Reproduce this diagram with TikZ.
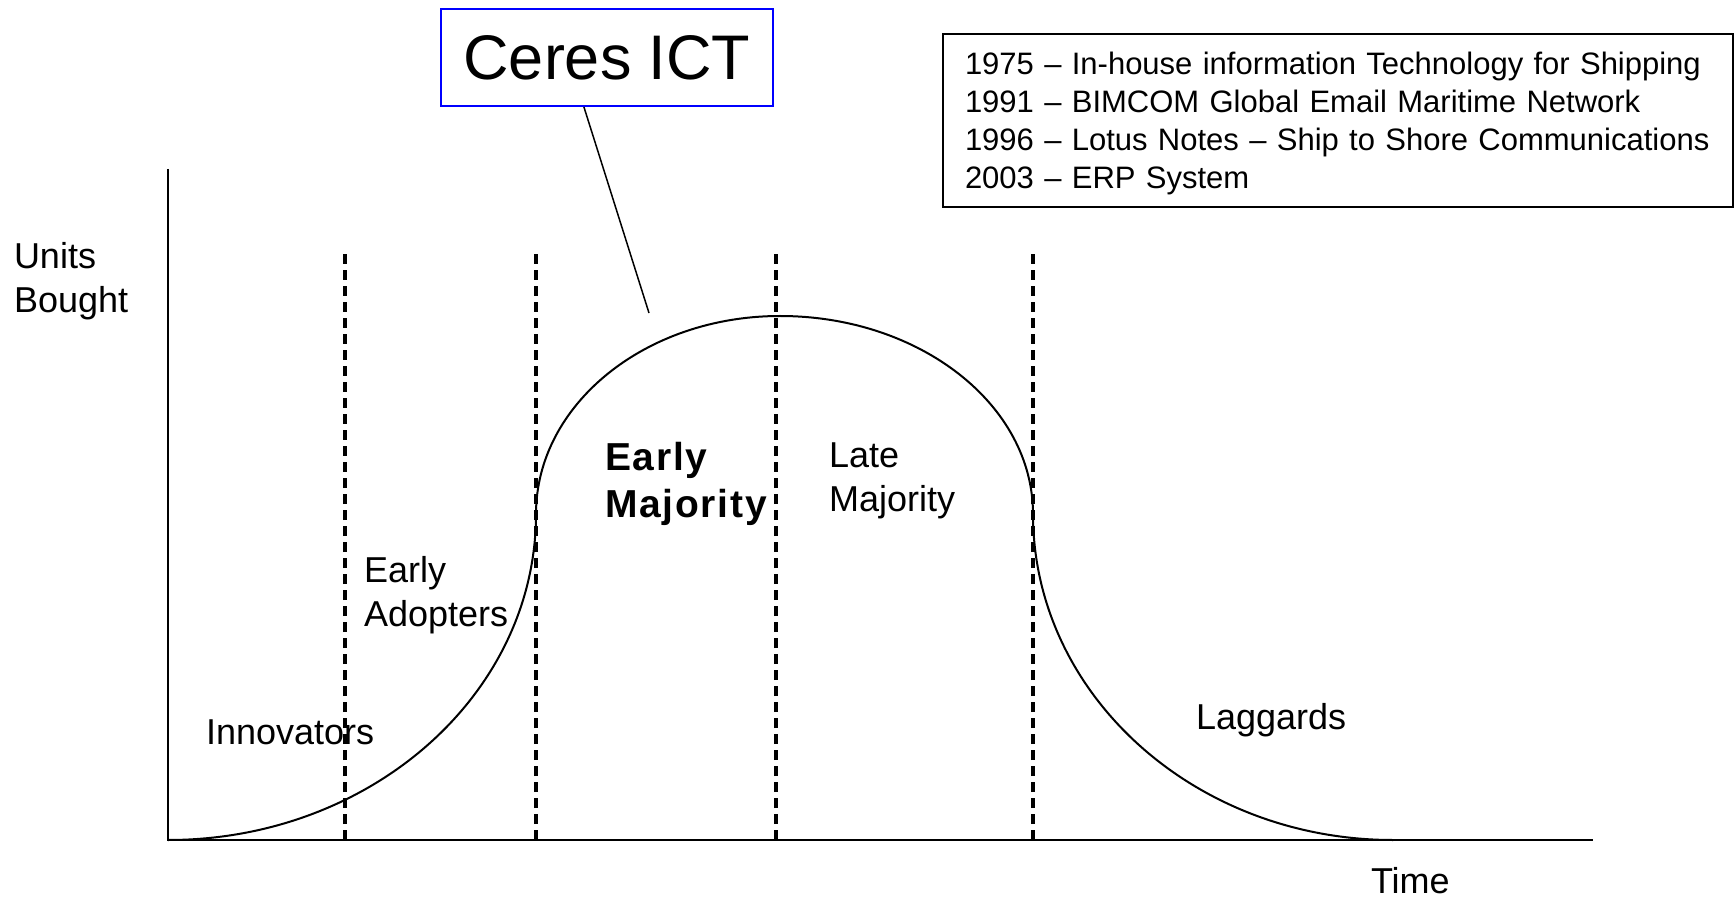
\documentclass[tikz,border=0pt]{standalone}
\usepackage{fontspec}
\setmainfont{Liberation Sans}
\newfontfamily\spacedfont[LetterSpace=4.5]{Liberation Sans}
\tikzset{
	lbl/.style={inner sep=0pt, anchor=base west, align=left, font=\fontsize{36}{44}\selectfont},
	divider/.style={line width=3.5pt, dash pattern=on 10pt off 6pt},
}

\begin{document}
\begin{tikzpicture}[x=1pt,y=1pt,line width=2pt]
	\useasboundingbox (0,0) rectangle (1734,898);
	\node (units) [lbl] at (13,585) {Units\\Bought};
	\node (innov) [lbl] at (205,154) {Innovators};
	\node (adopt) [lbl] at (363,272) {Early\\Adopters};
	\node (early) [lbl, font=\spacedfont\bfseries\fontsize{39}{47}\selectfont] at (604,381) {Early\\Majority};
	\node (late) [lbl] at (828,387) {Late\\Majority};
	\node (lag) [lbl] at (1195,169) {Laggards};
	\node (time) [lbl] at (1370,5) {Time};
	\coordinate (O) at (168,58);
	\coordinate (ytop) at (168,729);
	\coordinate (xend) at (1593,58);
	\draw (ytop) -- (O) -- (xend);
	\foreach \x in {345,536,776,1033}{
		\draw [divider] (\x,58) -- (\x,646);
	}
	\draw (O) arc (270:360:368 and 326) arc (180:90:244 and 198) arc (90:0:253 and 198) arc (180:270:360 and 326);
	\node (ceres) [draw=blue, minimum width=332pt, minimum height=97pt, inner sep=0pt, font=\fontsize{63}{70}\selectfont] at (607,840.5) {Ceres ICT};
	\coordinate (tip) at (649,585);
	\draw [line width=1.5pt] (ceres.-115) -- (tip);
	\node (history) [draw, line width=1.5pt, minimum width=790pt, minimum height=173pt, text width=746pt, inner xsep=22pt, align=left, font=\fontsize{31}{37.7}\selectfont] at (1338,777.5) {\rule{0pt}{28.5pt}1975 – In-house information Technology for Shipping\\1991 – BIMCOM Global Email Maritime Network\\1996 – Lotus Notes – Ship to Shore Communications\\2003 – ERP System};
\end{tikzpicture}
\end{document}
